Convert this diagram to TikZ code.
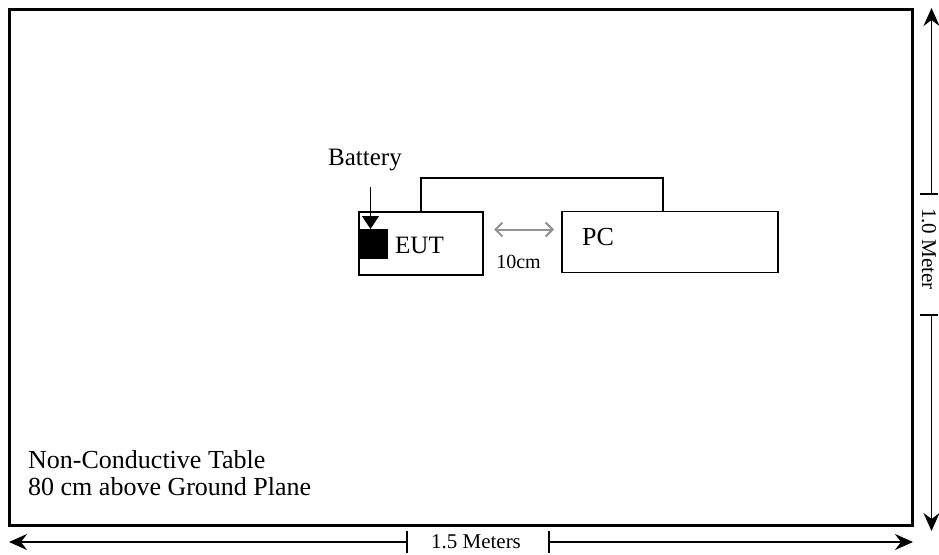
\documentclass[tikz,border=0pt]{standalone}
\usepackage{fontspec}
\setmainfont{Liberation Serif}
\usetikzlibrary{arrows.meta}
\begin{document}
\begin{tikzpicture}[x=1pt,y=-1pt,
  tablebox/.style={draw,line width=3pt,inner sep=0pt,outer sep=0pt},
  unitbox/.style={draw,line width=1.5pt,inner sep=0pt,outer sep=0pt},
  lbl/.style={inner sep=0pt,font=\fontsize{25}{27}\selectfont},
  dimlbl/.style={inner sep=0pt,font=\fontsize{21}{23}\selectfont},
  dimarrow/.style={line width=1.5pt,-{Stealth[length=18pt,width=16pt,inset=6pt]}},
  dimtick/.style={line width=1.5pt},
  cable/.style={line width=1.5pt},
  gapArrow/.style={line width=2pt,draw=gray!85,{Straight Barb[length=7pt,width=14pt]}-{Straight Barb[length=7pt,width=14pt]}},
  batArrow/.style={line width=1.3pt,-{Triangle[length=13pt,width=17pt]}}]
\useasboundingbox (0,0) rectangle (939,554);
% table
\node[tablebox,minimum width=903pt,minimum height=516pt] (table) at (461,267) {};
\node[lbl,font=\fontsize{26}{27}\selectfont,anchor=base west] (t1) at (28,468) {Non-Conductive Table};
\node[lbl,font=\fontsize{26}{27}\selectfont,anchor=base west] (t2) at (28,495) {80 cm above Ground Plane};
% EUT
\node[unitbox,minimum width=124pt,minimum height=63pt] (eut) at (421,243.5) {};
\node[lbl,anchor=base] (eutlbl) at (419.5,253) {EUT};
\node[fill=black,inner sep=0pt,minimum width=29pt,minimum height=30pt,anchor=north west] (bat) at (359,229) {};
\node[lbl,anchor=base] (batlbl) at (365,165) {Battery};
\coordinate (battop) at (370.5,187);
\draw[batArrow] (battop) -- (bat.north -| battop);
% PC
\node[unitbox,minimum width=216pt,minimum height=61pt] (pc) at (670,242) {};
\node[lbl,font=\fontsize{26}{27}\selectfont,anchor=base west] (pclbl) at (582,245) {PC};
% cable
\draw[cable] (eut.north) -- ++(0,-34) -| ([xshift=-7pt]pc.north);
% gap arrow
\coordinate (g1) at (494,229.5);
\coordinate (g2) at (554,229.5);
\draw[gapArrow] (g1) -- (g2);
\node[inner sep=0pt,font=\fontsize{20}{22}\selectfont,anchor=base] (gaplbl) at (518.5,268) {10cm};
% horizontal dimension
\coordinate (hl) at (9,542);
\coordinate (hr) at (913,542);
\coordinate (hl2) at (407,542);
\coordinate (hr2) at (549,542);
\draw[dimarrow] (hl2) -- (hl);
\draw[dimarrow] (hr2) -- (hr);
\draw[dimtick] ([yshift=-11pt]hl2) -- ([yshift=11pt]hl2);
\draw[dimtick] ([yshift=-11pt]hr2) -- ([yshift=11pt]hr2);
\node[dimlbl,anchor=base] (hlbl) at (476,548) {1.5 Meters};
% vertical dimension
\coordinate (vt) at (931.5,8);
\coordinate (vb) at (931.5,531);
\coordinate (vt2) at (931.5,194);
\coordinate (vb2) at (931.5,315);
\draw[dimarrow] (vt2) -- (vt);
\draw[dimarrow] (vb2) -- (vb);
\draw[dimtick] ([xshift=-12pt]vt2) -- ([xshift=6pt]vt2);
\draw[dimtick] ([xshift=-12pt]vb2) -- ([xshift=6pt]vb2);
\node[dimlbl,anchor=base,rotate=-90] (vlbl) at (922,249) {1.0 Meter};
\end{tikzpicture}
\end{document}
